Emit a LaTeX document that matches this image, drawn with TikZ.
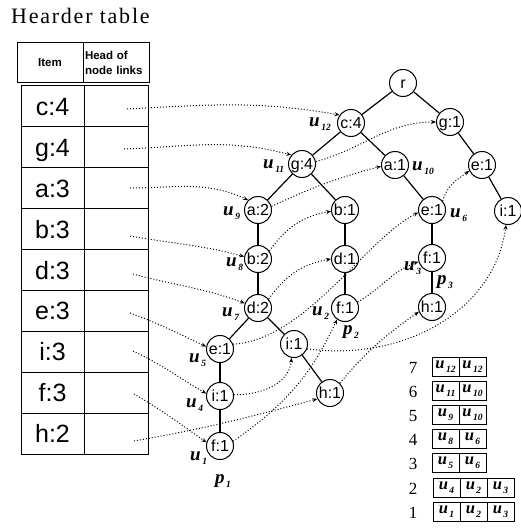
\documentclass[tikz,border=0pt]{standalone}
\usepackage{fontspec}
\setmainfont{Liberation Serif}
\setsansfont{Liberation Sans}
\usetikzlibrary{arrows.meta}
% italic letter with a small italic index
\newcommand{\usub}[1]{\textit{u}\kern1.5pt\raisebox{-0.55ex}{\fontsize{9.5}{9.5}\selectfont\textit{#1}}}
\newcommand{\psub}[1]{\textit{p}\kern1.5pt\raisebox{-0.55ex}{\fontsize{9.5}{9.5}\selectfont\textit{#1}}}
\begin{document}
\begin{tikzpicture}[x=1pt,y=1pt,
  tn/.style={circle,draw,line width=1pt,minimum size=27pt,inner sep=0pt,
    font=\sffamily\fontsize{16}{16}\selectfont,text height=11.2pt,text depth=0pt},
  edge/.style={line width=1.2pt},
  link/.style={line width=1pt,dash pattern=on 1pt off 2pt,-{Stealth[length=5pt,width=4pt]}},
  lab/.style={inner sep=0pt,anchor=base west,font=\bfseries\fontsize{19}{19}\selectfont},
  hdcell/.style={draw,line width=1pt,minimum width=66pt,minimum height=40pt,inner sep=0pt,
    font=\sffamily\bfseries\fontsize{11.5}{15.5}\selectfont},
  itemcell/.style={draw,line width=1pt,minimum width=63pt,minimum height=40.9pt,inner sep=0pt,
    font=\sffamily\fontsize{25}{25}\selectfont,text height=18pt,text depth=0pt},
  headcell/.style={draw,line width=1pt,minimum width=64pt,minimum height=40.9pt,inner sep=0pt},
  cell/.style={draw,line width=0.9pt,minimum width=27pt,minimum height=19pt,inner sep=0pt,
    outer sep=0pt,font=\bfseries\fontsize{16.5}{16.5}\selectfont},
  rownum/.style={inner sep=0pt,font=\fontsize{17}{17}\selectfont}
]
\useasboundingbox (0,0) rectangle (521,-532);

% title
\node[inner sep=0pt,anchor=base west,font=\fontsize{22}{22}\selectfont\addfontfeature{LetterSpace=8}] (title) at (11,-24) {Hearder table};

% header row of the table
\node[hdcell] (hitem) at (50,-63) {Item};
\node[hdcell,align=left,text width=62pt] (hhead) at (116,-63) {Head of\\node links};

% item rows
\foreach \name/\txt [count=\k from 0] in {c/c:4,g/g:4,a/a:3,b/b:3,d/d:3,e/e:3,i/i:3,f/f:3,h/h:2}{
  \node[itemcell] (t\name) at (52.5,{-106.45-40.89*\k}) {\txt};
  \node[headcell] (h\name) at (116,{-106.45-40.89*\k}) {};
}

% start points of the node links
\coordinate (sc) at (127,-109);
\coordinate (sg) at (124,-149);
\coordinate (sa) at (130,-188);
\coordinate (sb) at (130,-236);
\coordinate (sd) at (133,-274);
\coordinate (se) at (130,-313);
\coordinate (si) at (133,-351);
\coordinate (sf) at (134,-394);
\coordinate (sh) at (134,-441);

% FP-tree nodes
\node[tn] (r)   at (403,-83)  {r};
\node[tn] (c4)  at (351,-123) {c:4};
\node[tn] (g1)  at (450,-122) {g:1};
\node[tn] (g4)  at (302,-164) {g:4};
\node[tn] (a1)  at (395,-165) {a:1};
\node[tn] (e1t) at (482,-165) {e:1};
\node[tn] (a2)  at (258,-210) {a:2};
\node[tn] (b1)  at (345,-210) {b:1};
\node[tn] (e1m) at (432,-210) {e:1};
\node[tn] (i1r) at (508,-211) {i:1};
\node[tn] (b2)  at (258,-259) {b:2};
\node[tn] (d1)  at (345,-259) {d:1};
\node[tn] (f1b) at (432,-258) {f:1};
\node[tn] (d2)  at (258,-308) {d:2};
\node[tn] (f1a) at (345,-308) {f:1};
\node[tn] (h1u) at (432,-307) {h:1};
\node[tn] (e1l) at (220,-349) {e:1};
\node[tn] (i1m) at (294,-344) {i:1};
\node[tn] (i1l) at (220,-396) {i:1};
\node[tn] (h1l) at (330,-393) {h:1};
\node[tn] (f1l) at (220,-446) {f:1};

% tree edges
\draw[edge] (r) -- (c4);
\draw[edge] (r) -- (g1);
\draw[edge] (c4) -- (g4);
\draw[edge] (c4) -- (a1);
\draw[edge] (g1) -- (e1t);
\draw[edge] (g4) -- (a2);
\draw[edge] (g4) -- (b1);
\draw[edge] (a1) -- (e1m);
\draw[edge] (e1t) -- (i1r);
\draw[edge] (a2) -- (b2);
\draw[edge] (b1) -- (d1);
\draw[edge] (e1m) -- (f1b);
\draw[edge] (b2) -- (d2);
\draw[edge] (d1) -- (f1a);
\draw[edge] (f1b) -- (h1u);
\draw[edge] (d2) -- (e1l);
\draw[edge] (d2) -- (i1m);
\draw[edge] (e1l) -- (i1l);
\draw[edge] (i1m) -- (h1l);
\draw[edge] (i1l) -- (f1l);

% node labels
\node[lab] (lu12) at (309,-126) {\usub{12}};
\node[lab] (lu11) at (263,-168) {\usub{11}};
\node[lab] (lu10) at (412,-170) {\usub{10}};
\node[lab] (lu9)  at (223,-215) {\usub{9}};
\node[lab] (lu8)  at (226,-266) {\usub{8}};
\node[lab] (lu7)  at (222,-316) {\usub{7}};
\node[lab] (lu6)  at (450,-217) {\usub{6}};
\node[lab] (lu3)  at (404,-270) {\usub{3}};
\node[lab] (lp3)  at (437,-284) {\psub{3}};
\node[lab] (lu2)  at (312,-315) {\usub{2}};
\node[lab] (lp2)  at (343,-334) {\psub{2}};
\node[lab] (lu5)  at (189,-362) {\usub{5}};
\node[lab] (lu4)  at (186,-407) {\usub{4}};
\node[lab] (lu1)  at (190,-460) {\usub{1}};
\node[lab] (lp1)  at (215,-483) {\psub{1}};

% links from the header table
\draw[link] (sc) to[out=3,in=170] (c4.145);
\draw[link] (sg) to[out=2,in=165] (g4.140);
\draw[link] (sa) to[out=0,in=155] (a2.135);
\draw[link] (sb) to[out=-10,in=165] (b2.170);
\draw[link] (sd) to[out=-15,in=160] (d2.160);
\draw[link] (se) to[out=-20,in=155] (e1l.170);
\draw[link] (si) to[out=-25,in=150] (i1l.170);
\draw[link] (sf) to[out=-30,in=145] (f1l.165);
\draw[link] (sh) to[out=10,in=195] (h1l.205);

% node links inside the tree
\draw[link] (g4.10) to[out=15,in=180] (g1.180);
\draw[link] (a2.15) to[out=25,in=195] (a1.185);
\draw[link] (b2.35) to[out=55,in=190] (b1.185);
\draw[link] (d2.40) to[out=55,in=190] (d1.180);
\draw[link] (e1l.20) .. controls (305,-340) and (365,-240) .. (e1m.190);
\draw[link] (e1m.40) to[out=75,in=215] (e1t.205);
\draw[link] (i1l.5) to[out=0,in=265] (i1m.260);
\draw[link] (i1m.340) to[out=-8,in=262] (i1r.262);
\draw[link] (h1l.45) to[out=50,in=215] (h1u.200);
\draw[link] (f1l.20) to[out=35,in=245] (f1a.235);
\draw[link] (f1a.25) to[out=30,in=200] (f1b.195);

% conditional table
\node[rownum] (n7) at (413,-368) {7};
\node[cell] (c7a) at (445.5,-367) {\usub{12}};
\node[cell] (c7b) at (472.5,-367) {\usub{12}};
\node[rownum] (n6) at (413,-392) {6};
\node[cell] (c6a) at (445.5,-391) {\usub{11}};
\node[cell] (c6b) at (472.5,-391) {\usub{10}};
\node[rownum] (n5) at (413,-416) {5};
\node[cell] (c5a) at (445.5,-415) {\usub{9}};
\node[cell] (c5b) at (472.5,-415) {\usub{10}};
\node[rownum] (n4) at (413,-440) {4};
\node[cell] (c4a) at (445.5,-439) {\usub{8}};
\node[cell] (c4b) at (472.5,-439) {\usub{6}};
\node[rownum] (n3) at (413,-464) {3};
\node[cell] (c3a) at (445.5,-463) {\usub{5}};
\node[cell] (c3b) at (472.5,-463) {\usub{6}};
\node[rownum] (n2) at (413,-489) {2};
\node[cell] (c2a) at (446.5,-488) {\usub{4}};
\node[cell] (c2b) at (473.5,-488) {\usub{2}};
\node[cell] (c2c) at (500.5,-488) {\usub{3}};
\node[rownum] (n1) at (413,-513) {1};
\node[cell] (c1a) at (446.5,-512) {\usub{1}};
\node[cell] (c1b) at (473.5,-512) {\usub{2}};
\node[cell] (c1c) at (500.5,-512) {\usub{3}};
\end{tikzpicture}
\end{document}
